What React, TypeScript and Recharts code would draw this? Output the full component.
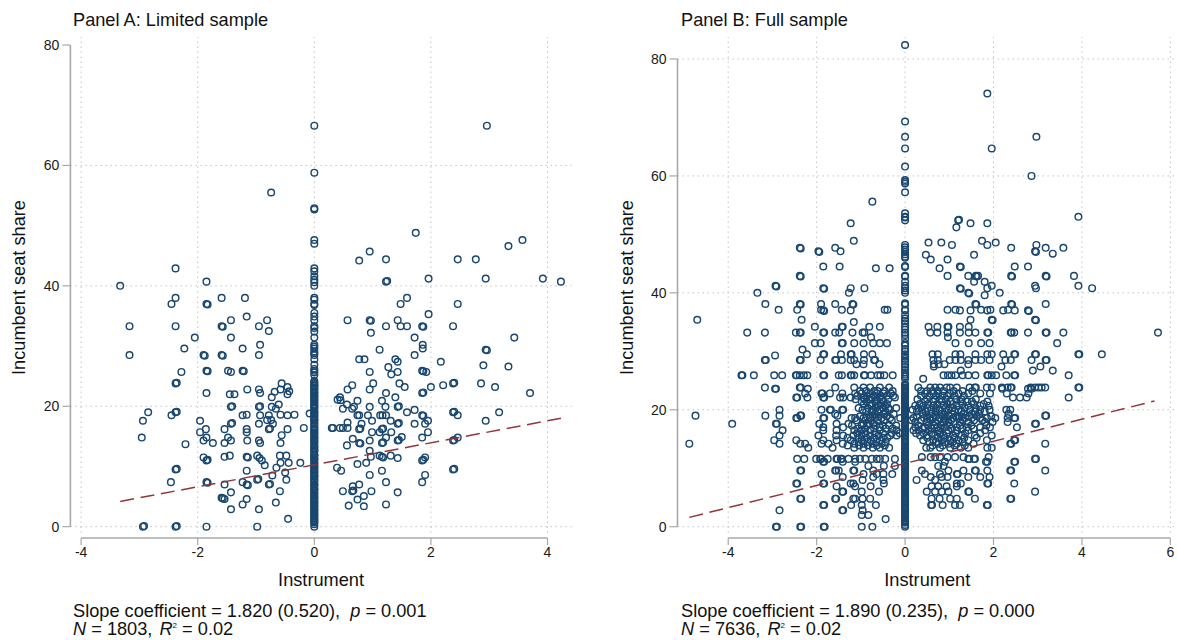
import React from 'react';
import { ScatterChart, Scatter, XAxis, YAxis, CartesianGrid, ReferenceLine, Label } from 'recharts';

const NAVY = '#1a476f';
const MAROON = '#90353b';
const GRAY = '#a8a8a8';
const TICK_TEXT = { fontFamily: 'Liberation Sans', fontSize: 14, fill: '#1a1a1a' };

// ---------- Panel A ----------
const aXTicks = [-4, -2, 0, 2, 4];
const aYTicks = [0, 20, 40, 60, 80];
const aGridY = [0, 20, 40, 60];
const aFit = [{ x: -3.33, y: 4.2 }, { x: 4.23, y: 18.0 }];
const aSpine = [66.6, 58.8, 52.9, 52.7, 47.6, 47, 42.9, 42.4, 41.6, 41, 40.6, 40, 38, 37.7, 37, 36.8, 35.5, 34.9, 34.3, 33.3, 33, 32.4, 31.4, 30.2, 29.9, 29.6, 29.1, 28.8, 28.5, 27.8, 26.9, 26.2, 25.9, 25.6, 25.2, 24.2, 23.9, 23.7, 23.4, 23.1, 22.8, 22.4, 22.1, 21.8, 21.4, 21.1, 20.7, 20.4, 20, 19.6, 19.2, 19, 18.6, 18.2, 17.9, 17.6, 17.2, 16.7, 16.4, 16, 15.7, 15.3, 14.9, 14.6, 14.3, 13.9, 13.5, 13.1, 12.8, 12.5, 12, 11.8, 11.4, 11.1, 10.7, 10.3, 10, 9.6, 9.3, 8.9, 8.6, 8.3, 7.9, 7.5, 7.1, 6.8, 6.4, 6.1, 5.7, 5.3, 5, 4.6, 4.3, 3.9, 3.6, 3.2, 2.9, 2.5, 2.2, 1.8, 1.5, 1.1, 0.7, 0.4, 0];
const aSpineFill = [23.5, 22.9, 22.3, 21.6, 21, 20.2, 19.8, 18.9, 18.4, 17.7, 17, 16.2, 15.5, 14.8, 14.1, 13.3, 12.6, 11.9, 11.2, 10.5, 9.8, 9.1, 8.4, 7.7, 7, 6.2, 5.5, 4.8, 4.1, 3.4, 2.7, 2, 1.3, 0.9];
const aLeft = [[-0.74, 55.5], [-2.38, 42.9], [-1.85, 40.7], [-3.33, 40], [-2.38, 38], [-2.45, 37], [-1.85, 37], [-1.83, 36.9], [-1.59, 38], [-1.19, 38], [-1.16, 34.9], [-1.43, 34.3], [-0.81, 34.3], [-3.17, 33.3], [-2.38, 33.3], [-1.59, 33.3], [-1.57, 33.2], [-0.95, 33.3], [-0.78, 32.5], [-2.05, 31.4], [-1.43, 31.4], [-0.93, 30.2], [-2.23, 29.6], [-1.23, 29.6], [-3.17, 28.5], [-1.9, 28.5], [-1.88, 28.4], [-1.59, 28.5], [-1.57, 28.4], [-0.95, 28.5], [-2.28, 25.7], [-1.85, 25.9], [-1.83, 25.8], [-1.48, 25.9], [-1.43, 25.7], [-1.23, 25.9], [-1.21, 25.8], [-2.38, 23.8], [-2.36, 23.9], [-0.56, 23.8], [-0.46, 23.2], [-1.15, 22.8], [-0.95, 22.8], [-0.58, 22.8], [-0.43, 22.5], [-0.68, 22.4], [-1.85, 22.2], [-1.45, 22], [-1.37, 22], [-0.93, 22.2], [-0.46, 22], [-0.73, 21.5], [-0.61, 20.3], [-1.43, 19.9], [-1.41, 20], [-0.95, 19.9], [-0.93, 20], [-0.73, 19.9], [-0.66, 19.6], [-2.85, 19], [-2.38, 19], [-2.36, 19.1], [-2.45, 18.5], [-1.23, 18.5], [-1.16, 18.6], [-0.93, 18.5], [-0.78, 18.5], [-0.58, 18.6], [-0.46, 18.5], [-0.34, 18.6], [-0.08, 18.8], [-2.94, 17.6], [-1.96, 17.6], [-0.81, 17.7], [-0.74, 17.7], [-1.43, 17.1], [-1.41, 17.2], [-0.95, 17.1], [-0.71, 17.1], [-1.86, 16.2], [-1.54, 16.2], [-1.16, 16.2], [-0.78, 16.2], [-0.76, 16.3], [-0.46, 16.2], [-0.18, 16.4], [-1.96, 15.7], [-1.16, 15.7], [-0.56, 15.2], [-2.96, 14.8], [-1.85, 14.8], [-1.48, 14.8], [-1.9, 14.3], [-1.43, 14.3], [-1.15, 14.3], [-0.95, 14.3], [-0.93, 13.9], [-1.74, 13.9], [-1.54, 13.9], [-0.58, 13.9], [-2.21, 13.7], [-1.45, 11.8], [-1.54, 11.6], [-0.98, 11.8], [-0.59, 11.8], [-0.48, 11.8], [-1.9, 11.5], [-1.16, 11.6], [-1.14, 11.5], [-0.94, 11.4], [-1.85, 11], [-1.83, 11.1], [-0.9, 11], [-0.58, 10.6], [-0.44, 10.6], [-0.24, 10.6], [-0.85, 10.2], [-0.65, 9.8], [-2.38, 9.5], [-2.36, 9.6], [-1.16, 9.3], [-0.5, 9], [-0.72, 8.5], [-0.98, 7.8], [-0.96, 7.9], [-0.48, 7.8], [-2.46, 7.4], [-1.85, 7.4], [-1.83, 7.3], [-1.23, 7.4], [-1.54, 7], [-1.16, 7], [-1.14, 6.9], [-0.78, 7], [-0.76, 7.1], [-1.43, 5.7], [-0.59, 5.9], [-1.59, 4.8], [-1.57, 4.7], [-1.54, 4.6], [-1.16, 4.6], [-0.66, 4], [-1.23, 3.7], [-1.43, 2.9], [-0.95, 2.9], [-0.45, 1.3], [-2.94, 0], [-2.92, 0.1], [-2.38, 0], [-2.36, 0.1], [-1.85, 0], [-0.98, 0]];
const aRight = [[2.96, 66.6], [1.74, 48.8], [0.95, 45.7], [0.77, 44.2], [1.23, 44.4], [2.46, 44.4], [2.77, 44.4], [3.33, 46.6], [3.57, 47.6], [1.23, 40.7], [1.25, 40.8], [1.96, 41.2], [2.94, 41.2], [3.92, 41.2], [4.23, 40.7], [1.59, 38], [1.48, 37], [2.46, 37], [1.96, 35.3], [0.57, 34.3], [0.95, 34.3], [0.97, 34.2], [1.43, 34.3], [1.23, 33.3], [1.48, 33.3], [1.59, 33.3], [1.85, 33.3], [1.87, 33.2], [2.38, 33.3], [0.97, 32.2], [1.72, 31.4], [3.43, 31.4], [1.86, 30.2], [1.86, 29.6], [1.12, 29.4], [2.94, 29.4], [2.96, 29.3], [1.72, 28.5], [0.77, 27.8], [0.86, 27.8], [1.39, 27.8], [1.43, 27.4], [2.17, 27.4], [2.9, 26.8], [3.33, 26.6], [1.27, 26.5], [0.95, 25.7], [1.32, 25.3], [1.43, 25.7], [1.85, 25.9], [1.87, 25.8], [1.92, 25.7], [0.65, 23.5], [1.01, 23.8], [1.46, 23.8], [2.38, 23.8], [2.4, 23.9], [2.21, 23.5], [2.86, 23.8], [2, 23.2], [1.55, 23.2], [3.1, 23.2], [0.57, 22.8], [0.95, 22.8], [1.23, 22.2], [1.85, 22.2], [1.87, 22.3], [3.7, 22.2], [0.44, 21.5], [1.39, 21.5], [0.4, 21.1], [0.45, 21], [0.74, 20.9], [1.16, 20.9], [0.56, 20.3], [0.68, 19.9], [0.65, 19.6], [0.95, 19.9], [1.22, 19.9], [1.43, 19.9], [1.45, 20], [0.49, 19.6], [1.59, 19], [1.72, 19.4], [0.74, 18.5], [0.77, 18.5], [0.92, 18.5], [1.13, 18.5], [1.17, 18.5], [1.23, 18.5], [1.85, 18.5], [1.87, 18.4], [2.38, 19], [2.4, 19.1], [2.46, 18.5], [3.17, 19], [2.94, 17.6], [1.95, 17.6], [0.99, 17.6], [1.31, 17.6], [0.57, 17.3], [0.81, 17.1], [1.43, 17.1], [1.45, 17.2], [1.72, 17.1], [1.9, 17.1], [0.3, 16.4], [0.32, 16.4], [0.44, 16.4], [0.49, 16.4], [0.57, 16.4], [0.77, 16.2], [0.79, 16.3], [1.16, 16.2], [1.18, 16.3], [0.99, 15.7], [1.12, 15.7], [1.32, 15.7], [1.95, 15.7], [0.66, 14.6], [1.23, 14.8], [1.5, 14.9], [1.85, 14.8], [2.46, 14.8], [0.95, 14.3], [1.43, 14.3], [1.45, 14.4], [2.38, 14.3], [2.4, 14.4], [0.77, 13.9], [0.79, 13.8], [1.16, 13.9], [1.18, 14], [0.56, 13.5], [0.95, 12.6], [0.97, 11.6], [1.12, 11.8], [1.16, 11.6], [1.18, 11.5], [1.31, 11.8], [1.43, 11.4], [1.9, 11.5], [1.85, 11], [1.87, 11.1], [0.89, 10.6], [0.74, 10.4], [0.39, 9.8], [0.46, 9.3], [1.16, 9.3], [2.38, 9.5], [2.4, 9.6], [0.95, 8.6], [1.9, 8.6], [1.23, 7.4], [1.85, 7.4], [0.77, 7], [0.66, 6.7], [0.65, 5.9], [0.67, 6], [0.49, 5.9], [0.98, 5.9], [1.43, 5.7], [0.74, 4.5], [0.85, 5.1], [0.59, 3.5], [0.85, 3.4], [1.23, 3.7]];

// ---------- Panel B ----------
const bXTicks = [-4, -2, 0, 2, 4, 6];
const bYTicks = [0, 20, 40, 60, 80];
const bFit = [{ x: -4.88, y: 1.6 }, { x: 5.64, y: 21.5 }];
const bSpine = [82.4, 69.3, 66.7, 64.7, 61.6, 59.3, 59, 58.7, 57.2, 53.6, 53, 52.9, 52.4, 48.2, 47.8, 47.4, 47, 46.6, 46.2, 46, 44.6, 44.4, 42.9, 42.8, 41.9, 41.2, 40.8, 40.4, 40, 38.2, 38, 37.1, 37, 36.2, 35.6, 35.2, 34.8, 34.2, 33.7, 33.2, 32.8, 32.2, 31.4, 31, 30.4, 30, 29.5, 29.1, 28.7, 28.2, 27.8, 27.3, 26.8, 26.4, 26, 25.7, 25.3, 24.4, 24.1, 23.8, 23.5, 23.2, 22.9, 22.5, 22.2, 21.8, 21.5, 21.1, 20.8, 20.4, 20, 19.7, 19.3, 19, 18.6, 18.3, 17.9, 17.5, 17.2, 16.8, 16.4, 16.1, 15.7, 15.4, 15, 14.6, 14.3, 13.9, 13.6, 13.2, 12.9, 12.5, 12.1, 11.8, 11.4, 11.1, 10.7, 10.3, 10, 9.6, 9.3, 8.9, 8.5, 8.2, 7.8, 7.5, 7.1, 6.8, 6.4, 6, 5.7, 5.3, 5, 4.6, 4.2, 3.9, 3.5, 3.2, 2.8, 2.4, 2.1, 1.7, 1.4, 1, 0.7, 0.3, 0];
const bSpineFill = [24.2, 23.6, 23, 22.3, 21.6, 21, 20.2, 19.5, 18.8, 18.1, 17.4, 16.6, 15.9, 15.2, 14.5, 13.7, 13, 12.3, 11.6, 10.9, 10.2, 9.4, 8.7, 8, 7.3, 6.6, 5.9, 5.1, 4.4, 3.7, 3, 2.3, 1.6, 0.9];
const bUpper = [[1.86, 74.1], [2.97, 66.7], [1.96, 64.7], [2.86, 60], [-0.74, 55.6], [3.92, 53], [-1.23, 51.9], [1.2, 52.4], [1.22, 52.5], [1.16, 51.2], [1.48, 51.9], [1.86, 51.9], [-1.16, 48.9], [0.53, 48.6], [0.82, 48.6], [1.06, 48.2], [1.74, 48.9], [1.86, 48.2], [2.05, 48.6], [2.97, 48.2], [-2.38, 47.7], [-2.36, 47.6], [-1.96, 47.1], [-1.94, 47], [-1.58, 47.7], [-1.46, 47.1], [2.4, 47.7], [2.94, 47.1], [2.96, 47], [3.18, 47.7], [3.58, 47.7], [3.34, 46.7], [0.47, 46.5], [1.56, 46.5], [0.58, 45.7], [0.96, 45.7], [-1.85, 44.5], [-1.48, 44.5], [-0.66, 44.2], [-0.35, 44.2], [0.78, 44.2], [1.24, 44.5], [1.26, 44.4], [2.48, 44.5], [2.78, 44.5], [-2.38, 42.9], [-2.36, 42.8], [0.96, 42.9], [1.43, 42.9], [1.6, 42.9], [1.62, 42.8], [1.65, 42.9], [2.4, 42.9], [2.42, 42.8], [3.18, 42.9], [3.2, 42.8], [3.82, 42.9], [-2.93, 41.2], [-2.91, 41.1], [1.8, 41.9], [1.56, 41.9], [1.96, 41.2], [1.86, 40.8], [2.94, 41.2], [2.96, 40.8], [3.92, 41.2], [4.23, 40.8], [-1.85, 40.8], [-1.83, 40.7], [-1.23, 40.8], [-0.92, 40.8], [1.24, 40.8], [1.26, 40.7], [-3.34, 40], [-1.27, 40], [1.43, 40], [1.45, 39.9], [2.14, 40], [1.8, 39.6], [-3.16, 38.1], [-2.38, 38.1], [-2.36, 38], [-1.9, 38.1], [-1.58, 38.1], [-1.19, 38.1], [-1.17, 38], [1.59, 38.1], [1.61, 38], [2.4, 38.1], [2.42, 38], [3.18, 38.1], [-2.86, 37.1], [-2.44, 37.1], [-1.9, 37.1], [-1.85, 37], [-1.83, 36.9], [-1.43, 37.1], [-1.23, 37], [-0.46, 37.1], [-0.4, 37.1], [0.96, 37.1], [1.14, 37.1], [1.24, 37], [1.48, 37], [1.72, 37.1], [1.86, 37], [1.93, 37.1], [2.22, 37], [2.33, 37.1], [2.48, 37], [2.78, 37], [2.8, 36.9], [-4.7, 35.4], [-2.34, 35.4], [-1.16, 35], [1.48, 35.4], [1.96, 35.4], [1.98, 35.3], [2.94, 35.4], [2.96, 35.3]];
const bMiddleRows = [
  [34.2, [-2.04, -1.43, -1.41, -0.81, -0.57, 0.53, 0.73, 0.96, 0.98, 1.24, 1.44]],
  [33.2, [-3.57, -3.17, -2.47, -2.38, -2.36, -1.85, -1.83, -1.58, -1.49, -1.19, -0.96, -0.92, 0.57, 0.73, 0.96, 1.24, 1.44, 1.59, 1.86, 1.88, 2.39, 2.41, 2.47, 2.78, 3.18, 3.2, 3.58, 5.72]],
  [32.4, [-0.77, 0.97]],
  [31.4, [-2.04, -1.91, -1.43, -1.41, -1.15, -0.94, -0.72, -0.57, -0.41, 1.14, 1.44, 1.72, 1.91, 3.44]],
  [30.3, [-2.32]],
  [29.5, [-2.22, -1.85, -1.83, -1.45, -1.23, -1.21, -0.93, -0.74, 0.62, 0.74, 1.14, 1.25, 1.59, 1.86, 1.96, 2.22, 2.47, 2.49, 2.94, 2.96, 3.92, 3.94, 4.45]],
  [29.3, [-2.94]],
  [28.5, [-3.17, -3.15, -2.38, -2.36, -1.91, -1.58, -1.56, -1.43, -1.23, -1.15, -0.93, -0.7, -0.68, 0.64, 0.74, 1.01, 1.14, 1.26, 1.43, 1.59, 1.72, 1.91, 2.27, 2.39, 2.86, 3.18, 3.2]],
  [27.8, [-1.1, -0.94, -0.58, 0.65, 0.76, 0.89, 1.43]],
  [27.4, [0.65, 2.18, 3.06]],
  [26.7, [1.26, 2.89, 3.34]],
  [25.9, [-3.7, -3.68, -3.42, -2.96, -2.78, -2.47, -2.45, -2.38, -2.29, -2.21, -1.85, -1.83, -1.5, -1.43, -1.23, -1.21, -1.15, -0.93, -0.91, -0.77, -0.62, -0.56, -0.47, -0.28, 0.87, 0.97, 1.05, 1.14, 1.3, 1.43, 1.59, 1.86, 1.88, 1.96, 2.06, 2.29, 2.47, 2.49, 3.7]],
  [25.3, [0.41]],
];
const bCoreRows = [
  [23.8, [-3.17, -2.38, -2.36, -1.58, -1.15, -0.94, -0.79, -0.57, -0.36, 0.3, 0.57, 0.68, 0.79, 0.94, 1.02, 1.17, 1.46, 1.58, 1.6, 1.85, 1.96, 2.19, 2.32, 2.39, 2.41, 2.84, 2.94, 3.02, 3.09, 3.17, 3.92, 3.94]],
  [23.6, [-2.94, -2.92, -2.2, 2.2, 2.78, 2.86]],
  [22.8, [-2.26, -1.89, -1.87, -1.7, -1.42, -1.13, -0.98, -0.79, -0.64, -0.49, -0.32, 0.45, 0.64, 0.75, 1.02, 1.21, 1.43, 1.7, 1.92, 2.3, 2.79]],
  [22.1, [-2.46, -2.44, -2.21, -1.85, -1.83, -1.47, -1.4, -1.23, -0.94, -0.75, -0.57, -0.23, 2.44, 2.6, 2.75, 3.7]],
  [21.4, [-0.98, -0.87, -0.68, -0.49, 0.45, 0.64, 0.83, 1.02, 1.25, 1.4, 1.51, 1.86]],
  [20.7, [-0.75, -0.6, -0.45, 0.23, 0.41, 0.64, 0.87, 1.17, 1.43, 1.7, 1.89]],
  [20, [-2.84, -1.89, -1.7, -1.68, -1.42, -1.4, -0.96, -0.72, -0.57, -0.34, 0.17, 0.38, 0.6, 0.78, 0.98, 1.21, 1.47, 1.7, 1.91, 2.29, 2.38]],
  [19.3, [-1.58, -0.68, -0.49, -0.26, 0.4, 0.6, 0.83, 1.06, 1.32, 1.51, 1.68, 2.34]],
  [19, [-4.74, -3.16, -2.84, -2.37, -2.35, -1.53, 3.17, 3.19]],
  [18.6, [-2.46, -2.44, -1.85, -1.83, -1.21, -1.13, -0.94, -0.79, -0.68, -0.53, -0.34, -0.11, 0.19, 0.43, 0.55, 0.64, 0.78, 0.9, 1.09, 1.21, 1.36, 1.51, 1.7, 1.85, 2.04, 2.32, 2.47, 2.49]],
  [17.9, [0.23, 0.49, 0.68, 0.87, 0.98, 1.24, 1.43, 1.81, 1.98, 2.32]],
  [17.6, [-3.91, -2.92, -2.9, -1.94, -1.55, -1.28, -0.94, -0.83, -0.72, 2.94, 2.96]],
  [17, [-1.85, -1.4, -0.57, 0.23, 0.45, 0.72, 0.9, 1.17, 1.4, 1.7, 1.92, 2.53]],
  [16.5, [-2.77, -1.85, -1.55, -1.15, -0.98, -0.79, -0.57, -0.19, 0.19, 0.3, 0.53, 0.75, 0.98, 1.17, 1.43, 1.81]],
  [15.6, [-2.84, -1.96, -1.56, -1.4, -1.17, -0.98, -0.79, -0.6, -0.34, -0.19, 0.34, 0.49, 0.68, 0.87, 1.09, 1.28, 1.58, 1.96]],
  [14.8, [-2.96, -2.46, -1.85, -1.55, -1.23, -0.98, -0.78, -0.57, 0.41, 0.64, 0.83, 1.02, 1.21, 1.43, 1.85, 2.47, 2.49]],
  [14.2, [-4.88, -2.84, -2.37, -2.26, -1.89, -1.73, -1.41, -1.15, -0.94, -0.73, -0.53, 0.75, 0.98, 1.17, 1.55, 2.38, 2.4, 3.17]],
  [13.5, [-2.19, -1.64, -1.15, -0.94, -0.73, -0.57, -0.36, 0.48, 0.57, 0.79, 1.02, 1.26, 1.43, 1.86, 1.96]],
  [11.9, [0.38, 0.58, 0.68, 0.79, 0.96, 1.13, 1.32, 1.89]],
  [11.6, [-2.44, -2.28, -2.01, -1.92, -1.9, -1.75, -1.55, -1.53, -1.45, -1.43, -1.28, -1.13, -1.02, -0.9, -0.75, -0.64, -0.57, -0.45, -0.23, 1.43, 1.45, 1.56, 1.58, 2.94, 2.96]],
  [11.1, [-1.85, -1.83, -1.41, -1.13, 0.9, 1.83, 1.86, 2.47, 2.49]],
  [10.4, [-0.83, -0.48, -0.23, 0.75, 0.87]],
  [9.6, [-2.37, -2.35, -1.58, -1.56, -1.5, -1.17, -1.15, -0.72, 0.38, 0.98, 1.32, 1.58, 1.6, 1.86, 2.38, 2.4, 3.17]],
  [9, [-1.89, -0.94, -0.64, -0.49, -0.29, 0.45, 0.79, 1.17, 1.19]],
  [8.5, [-1.41, -0.72, 0.58, 0.83, 0.96, 1.43, 1.7, 1.91]],
  [8, [-0.96, -0.49, 0.26, 0.68]],
  [7.4, [-2.46, -2.44, -1.85, -1.83, -1.23, -1.17, -0.48, 1.17, 1.26, 1.86, 1.88, 2.47]],
  [6.9, [-1.55, -1.13, -0.78, 0.6, 0.75, 0.94, 1.17]],
  [6, [-1.42, -1.4, -0.98, -0.59, 0.49, 0.68, 0.83, 0.98, 1.43, 1.45, 2.94]],
  [4.8, [-2.37, -2.35, -1.58, -1.56, -1.17, -1.13, -0.96, -0.79, 0.6, 0.78, 1.02, 1.17, 1.58, 2.38, 2.4]],
  [3.7, [-1.85, -1.83, -1.22, -0.98, -0.66, 0.59, 0.61, 0.85, 1.13, 1.24, 1.85, 1.87]],
  [2.8, [-2.84, -1.42, -1.4, -0.96]],
  [2, [-0.98, -0.83]],
  [1.3, [-0.44]],
  [0, [-2.92, -2.9, -2.37, -2.35, -1.84, -1.82, -0.98, -0.74]],
];
const bDenseRows = [
  [23.2, [-1.02, -0.88, -0.7, -0.62, -0.46, -0.28, 0.36, 0.5, 0.62, 0.74, 0.86, 1.1, 1.3, 1.52]],
  [22.4, [-1.08, -0.86, -0.7, -0.55, -0.41, -0.27, 0.36, 0.55, 0.7, 0.85, 0.95, 1.12, 1.33]],
  [21.8, [-1.12, -0.92, -0.81, -0.64, -0.52, -0.38, 0.28, 0.5, 0.68, 0.78, 0.92, 1.16, 1.28, 1.6]],
  [21, [-0.93, -0.8, -0.66, -0.54, -0.41, 0.33, 0.52, 0.73, 0.96, 1.08, 1.3, 1.55, 1.78]],
  [20.3, [-1.05, -0.84, -0.66, -0.5, -0.38, -0.2, 0.3, 0.5, 0.7, 0.92, 1.08, 1.35, 1.6]],
  [19.7, [-0.88, -0.75, -0.62, -0.44, 0.27, 0.46, 0.69, 0.9, 1.12, 1.28, 1.58, 1.8]],
  [18.9, [-1.02, -0.87, -0.74, -0.6, -0.42, 0.27, 0.5, 0.7, 0.86, 1, 1.15, 1.28, 1.45, 1.62, 1.95]],
  [18.2, [-1.1, -0.9, -0.76, -0.62, -0.48, -0.3, 0.15, 0.36, 0.58, 0.74, 0.92, 1.04, 1.3, 1.56, 1.75]],
  [17.3, [-1.2, -0.98, -0.86, -0.66, -0.5, -0.36, -0.2, 0.3, 0.52, 0.66, 0.82, 1, 1.24, 1.5, 1.84]],
  [16.8, [-1.06, -0.9, -0.7, -0.44, -0.28, 0.4, 0.6, 0.8, 1.06, 1.3, 1.55]],
  [16, [-1.08, -0.9, -0.68, -0.5, -0.3, -0.12, 0.25, 0.42, 0.6, 0.78, 0.94, 1.14, 1.36, 1.7]],
  [15.2, [-1.3, -1.06, -0.88, -0.7, -0.5, -0.4, 0.5, 0.74, 0.9, 1.12, 1.34, 1.62]],
  [14.5, [-1.05, -0.85, -0.65, -0.44, 0.55, 0.7, 0.9, 1.08, 1.3]],
  [13.9, [-1.3, -1.04, -0.84, -0.64, -0.46, 0.62, 0.85, 1.12, 1.35]],
];

const toPairs = (pairs) => pairs.map(([x, y]) => ({ x, y }));
const toRows = (rows) => rows.flatMap(([y, xs]) => xs.map((x) => ({ x, y })));
const toSpine = (ys) => ys.map((y) => ({ x: 0, y }));

const panelA = {
  points: [...toPairs(aLeft), ...toPairs(aRight), ...toSpine(aSpine), ...toSpine(aSpineFill)],
  fit: aFit, xTicks: aXTicks, yTicks: aYTicks, gridY: aGridY,
  xDomain: [-4.184, 4.415], yDomain: [-1.88, 81.33], xEnds: [-4, 4], gridBottom: -1.05,
  left: 0, width: 590, marginRight: 18.3, title: 'Panel A: Limited sample', titleX: 73, noteX: 73, axisX: 70.4,
  labelOffset: 19,
  line1: ['Slope coefficient = 1.820 (0.520),  ', ' = 0.001'], n: '1803',
};
const panelB = {
  points: [...toPairs(bUpper), ...toRows(bMiddleRows), ...toRows(bCoreRows), ...toRows(bDenseRows), ...toSpine(bSpine), ...toSpine(bSpineFill)],
  fit: bFit, xTicks: bXTicks, yTicks: bYTicks, gridY: bYTicks,
  xDomain: [-5.147, 6.15], yDomain: [-1.93, 83.76], xEnds: [-4, 6], gridBottom: -1.07,
  left: 600, width: 577, marginRight: 0, title: 'Panel B: Full sample', titleX: 681, noteX: 681, axisX: 77.5,
  labelOffset: 27,
  line1: ['Slope coefficient = 1.890 (0.235),  ', ' = 0.000'], n: '7636',
};

const Ring = ({ cx, cy }) => <circle cx={cx} cy={cy} r={3.3} fill="none" stroke={NAVY} strokeWidth={1.45} />;
const NoMark = () => null;

const FONT_SIZE = 18.2;
const textBase = { position: 'absolute', fontFamily: 'Liberation Sans', fontSize: FONT_SIZE, color: '#111', whiteSpace: 'pre', lineHeight: '18px' };
const GRID = { stroke: '#c4c4c4', strokeWidth: 1, strokeDasharray: '1.5 3.5' };

function Panel({ p }) {
  return (
    <>
      <div style={{ position: 'absolute', left: p.left, top: 0 }}>
        <ScatterChart width={p.width} height={640} margin={{ top: 37, right: p.marginRight, bottom: 62, left: 0 }}>
          <CartesianGrid vertical={false} horizontal horizontalValues={p.gridY} {...GRID} />
          {p.xTicks.map((t) => (
            <ReferenceLine key={t} segment={[{ x: t, y: p.gridBottom }, { x: t, y: p.yDomain[1] }]} {...GRID} />
          ))}
          <XAxis type="number" dataKey="x" domain={p.xDomain} ticks={p.xTicks} allowDataOverflow height={40} axisLine={false} tickSize={7} tickMargin={2} tickLine={{ stroke: GRAY, strokeWidth: 1.2 }} tick={TICK_TEXT} interval={0}>
            <Label value="Instrument" position="insideBottom" offset={-8} style={{ fontFamily: 'Liberation Sans', fontSize: FONT_SIZE, fill: '#111' }} />
          </XAxis>
          <YAxis type="number" dataKey="y" domain={p.yDomain} ticks={p.yTicks} allowDataOverflow width={p.axisX} axisLine={false} tickSize={8} tickMargin={3} tickLine={{ stroke: GRAY, strokeWidth: 1.2 }} tick={TICK_TEXT} interval={0}>
            <Label value="Incumbent seat share" angle={-90} position="insideLeft" offset={p.labelOffset} style={{ textAnchor: 'middle', fontFamily: 'Liberation Sans', fontSize: FONT_SIZE, fill: '#111' }} />
          </YAxis>
          <ReferenceLine segment={[{ x: p.xDomain[0], y: 0 }, { x: p.xDomain[0], y: 80 }]} stroke={GRAY} strokeWidth={1.6} />
          <ReferenceLine segment={[{ x: p.xEnds[0], y: p.yDomain[0] }, { x: p.xEnds[1], y: p.yDomain[0] }]} stroke={GRAY} strokeWidth={1.6} />
          <Scatter data={p.points} shape={Ring} isAnimationActive={false} />
          <Scatter data={p.fit} shape={NoMark} line={{ stroke: MAROON, strokeWidth: 1.5, strokeDasharray: '14 6.7' }} isAnimationActive={false} />
        </ScatterChart>
      </div>
      <div style={{ ...textBase, left: p.titleX, top: 11 }}>{p.title}</div>
      <div style={{ ...textBase, left: p.noteX, top: 602 }}>{p.line1[0]}<i>p</i>{p.line1[1]}</div>
      <div style={{ ...textBase, left: p.noteX, top: 620 }}><i>N</i> = {p.n}, <i style={{ marginLeft: 2 }}>R</i><sup style={{ fontSize: 8, lineHeight: 0 }}>2</sup> = 0.02</div>
    </>
  );
}

export default function App() {
  return (
    <div style={{ position: 'absolute', left: 0, top: 0, width: 1177, height: 640, overflow: 'hidden', background: '#fff' }}>
      <Panel p={panelA} />
      <Panel p={panelB} />
    </div>
  );
}
